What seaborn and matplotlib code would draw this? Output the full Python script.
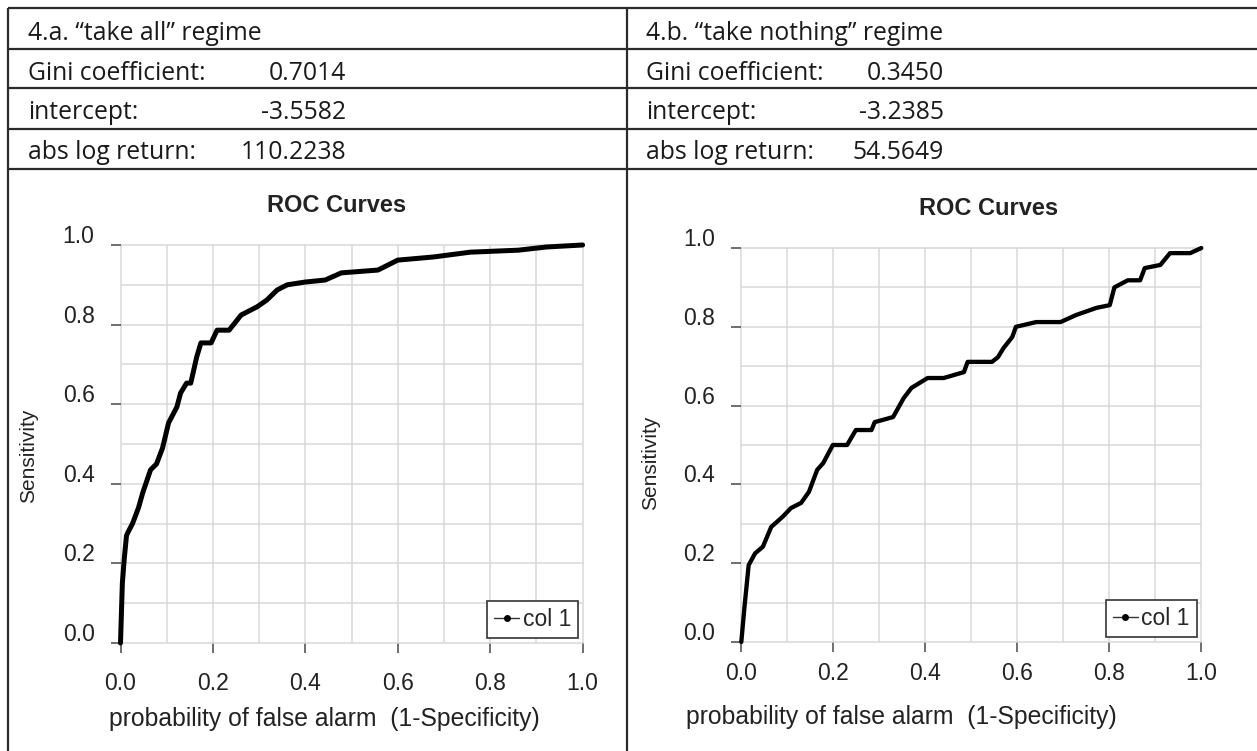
import matplotlib
matplotlib.use("Agg")
import matplotlib.pyplot as plt
from matplotlib.lines import Line2D
from matplotlib.transforms import ScaledTranslation
import seaborn as sns
import pandas as pd
import numpy as np

# ---------------- data ----------------
left_header = "4.a. \u201ctake all\u201d regime"
right_header = "4.b. \u201ctake nothing\u201d regime"
stat_names = ["Gini coefficient:", "intercept:", "abs log return:"]
left_stats = ["0.7014", "-3.5582", "110.2238"]
right_stats = ["0.3450", "-3.2385", "54.5649"]

left_fpr = [0.0, 0.004, 0.008, 0.013, 0.017, 0.026, 0.039, 0.048, 0.065, 0.078,
            0.091, 0.104, 0.122, 0.130, 0.143, 0.152, 0.165, 0.174, 0.196, 0.209,
            0.235, 0.261, 0.296, 0.317, 0.339, 0.361, 0.400, 0.443, 0.478, 0.557,
            0.600, 0.678, 0.757, 0.861, 0.922, 1.0]
left_tpr = [0.0, 0.15, 0.21, 0.27, 0.28, 0.30, 0.34, 0.377, 0.435, 0.45,
            0.49, 0.553, 0.593, 0.628, 0.653, 0.653, 0.719, 0.754, 0.754, 0.786,
            0.786, 0.824, 0.845, 0.862, 0.887, 0.90, 0.907, 0.912, 0.93, 0.937,
            0.962, 0.97, 0.982, 0.987, 0.995, 1.0]

right_fpr = [0.0, 0.007, 0.016, 0.03, 0.047, 0.065, 0.09, 0.108, 0.13, 0.147,
             0.165, 0.178, 0.199, 0.23, 0.249, 0.283, 0.29, 0.33, 0.353, 0.37,
             0.405, 0.44, 0.484, 0.492, 0.545, 0.558, 0.57, 0.589, 0.597, 0.641,
             0.694, 0.728, 0.772, 0.801, 0.811, 0.84, 0.867, 0.877, 0.911, 0.932,
             0.976, 1.0]
right_tpr = [0.0, 0.09, 0.195, 0.225, 0.242, 0.292, 0.318, 0.34, 0.353, 0.381,
             0.437, 0.454, 0.50, 0.50, 0.538, 0.538, 0.558, 0.571, 0.619, 0.645,
             0.67, 0.67, 0.685, 0.711, 0.711, 0.723, 0.746, 0.774, 0.80, 0.812,
             0.812, 0.83, 0.848, 0.855, 0.90, 0.918, 0.918, 0.949, 0.957, 0.987,
             0.987, 1.0]

tick_vals = [0.0, 0.2, 0.4, 0.6, 0.8, 1.0]
tick_labels = ["0.0", "0.2", "0.4", "0.6", "0.8", "1.0"]
series_label = "col 1"
title_text = "ROC Curves"
xlabel_text = "probability of false alarm  (1-Specificity)"
ylabel_text = "Sensitivity"

# ---------------- style ----------------
sns.set_style("white")
plt.rcParams["font.family"] = ["Liberation Sans", "DejaVu Sans"]

W, H = 1257, 751
fig = plt.figure(figsize=(W / 100, H / 100), dpi=100)
fig.patch.set_facecolor("white")

# background layer for the table structure (pixel coordinates)
bg = fig.add_axes([0, 0, 1, 1], zorder=0)
bg.set_xlim(0, W)
bg.set_ylim(H, 0)
bg.axis("off")

line_col = "#2b2b2b"
row_lines = [7.5, 48.5, 88, 128.5, 169]
for yl in row_lines:
    bg.plot([8, W], [yl, yl], color=line_col, lw=1.6, solid_capstyle="butt")
for xl in [8, 627]:
    bg.plot([xl, xl], [7.5, H], color=line_col, lw=1.6, solid_capstyle="butt")

tfont = dict(family=["Open Sans", "DejaVu Sans"], fontsize=17.8, color="#1a1a1a")
baselines = [40, 80, 119, 159]
bg.text(28, baselines[0], left_header, va="baseline", ha="left", **tfont)
bg.text(646, baselines[0], right_header, va="baseline", ha="left", **tfont)
for i, name in enumerate(stat_names):
    bg.text(28, baselines[i + 1], name, va="baseline", ha="left", **tfont)
    bg.text(646, baselines[i + 1], name, va="baseline", ha="left", **tfont)
    bg.text(346, baselines[i + 1], left_stats[i], va="baseline", ha="right", **tfont)
    bg.text(944, baselines[i + 1], right_stats[i], va="baseline", ha="right", **tfont)


def px_axes(x0, x1, ytop, ybot):
    return [x0 / W, 1 - ybot / H, (x1 - x0) / W, (ybot - ytop) / H]


panels = [
    dict(rect=px_axes(120.5, 582.6, 245, 643), fpr=left_fpr, tpr=left_tpr, lw=3.6,
         title_x=0.4665, title_y=1.083, xl=(0.4405, -0.161), yl=(-0.179, 0.47),
         xpad=13.5),
    dict(rect=px_axes(741.3, 1201.3, 248, 642), fpr=right_fpr, tpr=right_tpr, lw=3.1,
         title_x=0.5385, title_y=1.0838, xl=(0.347, -0.16), yl=(-0.177, 0.454),
         xpad=7.5),
]

for p in panels:
    ax = fig.add_axes(p["rect"], zorder=2)
    ax.set_facecolor("white")
    df = pd.DataFrame({"fpr": p["fpr"], "tpr": p["tpr"]})
    sns.lineplot(data=df, x="fpr", y="tpr", ax=ax, color="black", lw=p["lw"],
                 estimator=None, sort=False, legend=False)
    for ln in ax.get_lines():
        ln.set_clip_on(False)
        ln.set_zorder(5)
        ln.set_solid_joinstyle("round")
    ax.set_xlim(0, 1)
    ax.set_ylim(0, 1)
    for s in ax.spines.values():
        s.set_visible(False)
    ax.set_xticks(tick_vals)
    ax.set_xticklabels(tick_labels)
    ax.set_yticks(tick_vals)
    ax.set_yticklabels(tick_labels)
    ax.set_xticks(np.arange(0.1, 1.0, 0.2), minor=True)
    ax.set_yticks(np.arange(0.1, 1.0, 0.2), minor=True)
    ax.grid(True, which="both", color="#d9d9d9", lw=1.1)
    for gl in ax.get_xgridlines() + ax.get_ygridlines():
        gl.set_clip_on(False)
    ax.set_axisbelow(True)
    ax.tick_params(which="major", axis="both", direction="out", length=7.2,
                   width=1.2, color="#555555", labelsize=16.5, labelcolor="#222222",
                   bottom=True, left=True)
    ax.tick_params(which="major", axis="y", pad=11.5)
    ax.tick_params(which="major", axis="x", pad=p["xpad"])
    ax.tick_params(which="minor", length=0)
    for lab in ax.get_yticklabels():
        lab.set_transform(lab.get_transform() + ScaledTranslation(0, 0.11, fig.dpi_scale_trans))

    ax.set_title(title_text, fontsize=17, fontweight="bold", color="#222222",
                 pad=0, x=p["title_x"], y=p["title_y"])
    ax.set_xlabel(xlabel_text, fontsize=17.8, color="#222222")
    ax.set_ylabel(ylabel_text, fontsize=15, color="#222222")
    ax.xaxis.set_label_coords(*p["xl"])
    ax.yaxis.set_label_coords(*p["yl"])

    handle = Line2D([], [], color="#333333", lw=1.0, marker="o", markersize=4,
                    markerfacecolor="black", markeredgecolor="black")
    leg = ax.legend(handles=[handle], labels=[series_label], loc="lower right",
                    bbox_to_anchor=(0.99, 0.0126), borderaxespad=0, fancybox=False,
                    framealpha=1, edgecolor="#333333", fontsize=16.5, handlelength=1.1,
                    handletextpad=0.15, borderpad=0.3, numpoints=1)
    leg.get_frame().set_linewidth(1.2)
    leg.set_zorder(10)

fig.savefig("out.png", dpi=100, facecolor="white")
